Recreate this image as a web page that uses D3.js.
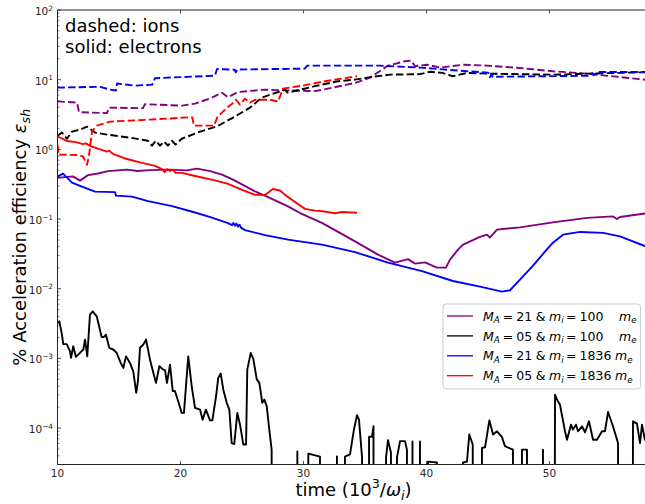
<!DOCTYPE html>
<html><head><meta charset="utf-8">
<script src="https://cdn.jsdelivr.net/npm/d3@7"></script>
<style>
body{margin:0;background:#fff}
svg{display:block;font-family:"DejaVu Sans",sans-serif}
text{white-space:pre}
</style>
</head><body>
<svg id="c" width="645" height="504"></svg>
<script>
// ---------------- DATA ----------------
const xTicks = [10, 20, 30, 40, 50];
const yTickExps = [-4, -3, -2, -1, 0, 1, 2];
const xDomain = [10, 58.13];
const yDomain = [3e-5, 100];

// ions (dashed)
const ionsMA21mi100 = [[10.0,4.89],[11.59,4.68],[11.75,3.42],[14.02,3.31],[14.19,3.97],[16.95,3.90],[17.11,4.45],[20.12,4.24],[21.18,4.53],[22.56,5.52],[23.37,6.51],[23.86,5.61],[24.67,6.66],[26.87,7.19],[30.93,6.84],[33.0,8.1],[34.19,9.0],[35.41,10.7],[36.87,15.9],[38.25,18.4],[38.74,18.8],[39.07,15.6],[40.04,16.4],[41.1,14.9],[42.97,16.4],[44.92,15.9],[47.6,14.7],[50.28,13.2],[53.05,12.2],[55.73,10.9],[57.76,10.0],[58.13,9.8]];
const ionsMA05mi100 = [[10.0,1.57],[10.37,1.74],[10.77,1.42],[11.18,1.80],[11.83,1.92],[12.4,2.12],[13.05,1.74],[14.02,1.63],[15.9,1.47],[17.36,1.33],[17.68,1.13],[18.0,1.33],[18.33,1.13],[18.66,1.29],[18.98,1.13],[19.3,1.33],[19.6,1.17],[20.1,1.42],[21.6,1.80],[22.97,2.14],[24.27,2.85],[25.65,3.97],[26.6,5.52],[27.3,6.09],[28.5,7.19],[28.7,6.51],[30.93,8.07],[32.8,9.51],[34.19,10.0],[35.57,11.0],[37.03,11.8],[39.47,12.0],[40.28,13.0],[41.3,12.5],[42.15,11.2],[43.3,12.5],[44.9,12.2],[50.3,11.8],[53.05,12.2],[57.76,12.8],[58.13,12.9]];
const ionsMA21mi1836 = [[10.0,7.7],[13.46,7.9],[14.27,7.2],[14.76,7.0],[14.84,8.8],[16.3,8.2],[17.7,8.5],[17.93,10.5],[22.8,11.4],[22.97,14.2],[24.4,13.9],[24.5,12.8],[24.6,14.0],[30.1,14.4],[30.3,15.9],[36.2,15.9],[39.5,14.9],[43.3,13.2],[45.0,12.6],[45.1,12.2],[45.15,10.8],[45.3,12.0],[45.4,11.0],[53.3,11.4],[53.5,12.4],[53.6,11.6],[53.9,12.9],[58.13,12.9]];
const ionsMA05mi1836 = [[10.0,1.17],[10.1,0.84],[11.67,0.83],[12.07,0.79],[12.4,0.60],[12.56,0.81],[12.8,1.80],[13.2,2.19],[14.27,2.50],[17.5,2.67],[20.94,2.90],[21.1,2.19],[22.72,2.19],[23.05,3.04],[23.37,3.36],[23.78,3.97],[24.2,4.53],[24.5,5.16],[24.84,4.38],[25.24,5.34],[25.65,4.68],[26.06,5.16],[27.28,5.16],[27.93,4.83],[28.33,7.43],[30.12,8.34],[31.75,9.51],[34.35,11.2]];

// electrons (solid)
const elecMA21mi100 = [[10.0,0.389],[11.26,0.41],[11.83,0.356],[12.48,0.427],[13.3,0.45],[14.1,0.487],[15.65,0.511],[16.5,0.49],[17.52,0.503],[19.15,0.511],[20.5,0.50],[21.34,0.528],[22.4,0.487],[23.37,0.434],[24.27,0.367],[26.06,0.25],[27.03,0.21],[28.74,0.152],[29.72,0.122],[31.5,0.088],[34.19,0.0479],[36.06,0.0308],[37.44,0.0237],[38.5,0.0266],[39.07,0.0229],[39.88,0.0239],[40.85,0.0201],[41.58,0.0201],[41.91,0.0261],[42.56,0.0364],[42.97,0.043],[44.35,0.0554],[44.92,0.0597],[45.16,0.054],[45.73,0.0705],[47.6,0.076],[50.28,0.0897],[53.05,0.104],[55.16,0.109],[55.49,0.1],[55.73,0.107],[57.76,0.12],[58.13,0.122]];
const elecMA05mi100 = [[10.0,3.2e-3],[10.15,3.4e-3],[10.34,2.3e-3],[10.47,1.6e-3],[10.75,1.6e-3],[11.02,1.26e-3],[11.1,1.02e-3],[11.28,1.49e-3],[11.5,1.05e-3],[11.83,1.2e-3],[12.1,1.34e-3],[12.24,1.86e-3],[12.42,1.07e-3],[12.64,4.25e-3],[12.86,4.74e-3],[13.19,4.02e-3],[13.59,2.03e-3],[13.78,2.03e-3],[13.94,2.19e-3],[14.21,1.42e-3],[14.54,1.34e-3],[14.81,1.2e-3],[15.14,8.6e-4],[15.35,7.3e-4],[15.57,1.07e-3],[15.89,8.6e-4],[16.16,6.5e-4],[16.4,3.2e-4],[16.54,4.7e-4],[16.71,1.42e-3],[16.98,1.58e-3],[17.2,1.86e-3],[17.52,9.6e-4],[17.79,6.2e-4],[18.01,4.45e-4],[18.28,7.7e-4],[18.6,6.9e-4],[18.74,6.8e-4],[18.9,4.45e-4],[19.15,8.1e-4],[19.37,3.4e-4],[19.55,3.4e-4],[19.82,2.4e-4],[20.1,1.65e-4],[20.28,1.65e-4],[20.63,1.07e-3],[20.91,4.0e-4],[21.18,1.95e-4],[21.59,1.84e-4],[21.8,1.32e-4],[22.07,1.84e-4],[22.4,1.29e-4],[22.59,1.29e-4],[22.89,2.86e-4],[23.07,5.25e-4],[23.27,6.05e-4],[23.48,3.56e-4],[23.76,2.3e-4],[23.97,1.84e-4],[24.16,6.1e-5],[24.37,5.9e-5],[24.62,1.65e-4],[24.84,1.12e-4],[25.11,5.8e-5],[25.33,5.8e-5],[25.43,6.9e-4],[25.71,1.2e-3],[25.92,9.8e-4],[26.2,5.0e-4],[26.41,4.45e-4],[26.65,2.3e-4],[26.81,2.56e-4],[27.01,2.06e-4],[27.22,9.5e-5],[27.41,4.9e-5],[27.5,0],[29.43,0],[29.5,4.6e-5],[29.55,0],[30.33,0],[30.39,4.3e-5],[31.34,3.9e-5],[31.42,0],[32.68,0],[32.72,3.9e-5],[32.8,0],[33.29,0],[33.37,3.9e-5],[33.78,4.2e-5],[34.1,9.5e-5],[34.35,1.53e-4],[34.51,1.32e-4],[34.76,3.8e-5],[34.84,0],[35.24,0],[35.33,7.5e-5],[35.57,7.5e-5],[35.69,1.06e-4],[35.81,0],[36.63,0],[36.71,3.8e-5],[36.87,6.7e-5],[37.11,4.45e-5],[37.28,0],[37.52,0],[37.6,3.8e-5],[37.85,6.5e-5],[38.25,6.5e-5],[38.41,4.9e-5],[38.66,0],[38.8,0],[38.86,6.4e-5],[38.98,0],[39.39,0],[39.47,6.4e-5],[39.55,0],[40.05,0],[40.12,3.3e-5],[40.85,3.2e-5],[41.1,0],[42.89,0],[42.97,3.2e-5],[43.29,3.3e-5],[43.48,8.1e-5],[43.76,5.8e-5],[43.86,0],[44.35,0],[44.51,5.2e-5],[44.76,5.3e-5],[45.11,1.29e-4],[45.41,8.1e-5],[45.73,9.0e-5],[46.14,7.4e-5],[46.38,5.5e-5],[46.79,5.1e-5],[47.03,4.9e-5],[47.28,0],[47.68,0],[47.76,4.9e-5],[48.17,4.9e-5],[48.25,0],[49.43,0],[49.47,4.9e-5],[49.55,0],[50.04,0],[50.45,3.0e-4],[50.69,2.4e-4],[50.85,2.17e-4],[51.26,9.0e-5],[51.42,6.8e-5],[51.75,1.12e-4],[51.91,9.5e-5],[52.15,1.12e-4],[52.32,9.0e-5],[52.64,1.06e-4],[52.89,8.7e-5],[53.21,1.25e-4],[53.54,6.8e-5],[53.86,6.8e-5],[54.27,9.0e-5],[54.51,9.0e-5],[54.76,1.7e-4],[55.16,1.06e-4],[55.57,6.1e-5],[55.89,0],[56.38,0],[56.79,1.25e-4],[57.11,1.16e-4],[57.36,6.1e-5],[57.52,1.12e-4],[57.76,6.8e-5],[58.13,6.0e-5]];
const elecMA21mi1836 = [[10.0,0.406],[10.45,0.448],[10.69,0.406],[11.18,0.333],[11.99,0.292],[13.05,0.247],[14.67,0.243],[14.76,0.217],[16.06,0.21],[17.36,0.181],[19.31,0.153],[21.18,0.124],[22.56,0.105],[23.86,0.0873],[24.2,0.082],[24.3,0.088],[24.43,0.0804],[24.55,0.086],[24.67,0.078],[24.8,0.083],[24.92,0.0753],[25.24,0.0693],[26.87,0.0588],[28.74,0.0506],[31.5,0.043],[34.19,0.0335],[36.87,0.0237],[39.63,0.0179],[42.15,0.0129],[44.35,0.0107],[46.14,0.0091],[46.79,0.0095],[47.6,0.0135],[48.66,0.0214],[49.63,0.034],[50.28,0.0458],[51.1,0.0597],[52.48,0.0653],[54.35,0.0632],[55.73,0.0565],[57.76,0.0409],[58.13,0.039]];
const elecMA05mi1836 = [[10.0,1.53],[10.77,1.32],[11.5,1.27],[12.07,1.19],[12.3,1.22],[12.64,1.12],[13.46,1.0],[14.0,0.93],[14.2,0.96],[14.51,0.86],[15.49,0.74],[16.71,0.65],[17.93,0.58],[18.5,0.52],[18.7,0.47],[18.9,0.52],[19.15,0.49],[19.4,0.51],[19.6,0.46],[20.12,0.46],[21.18,0.415],[22.8,0.358],[23.86,0.319],[25.0,0.262],[26.06,0.222],[26.87,0.222],[27.52,0.27],[28.09,0.257],[28.5,0.222],[29.31,0.176],[30.12,0.14],[30.93,0.132],[31.75,0.128],[32.56,0.121],[33.13,0.126],[34.35,0.123]];

const legendMA = ["21", "05", "21", "05"];
const legendMi = ["100", "100", "1836", "1836"];

// ---------------- STYLE / LAYOUT ----------------
const colors = ["#800080", "#000000", "#0000ff", "#ff0000"];
const L = 57.5, T = 10, B = 464.5, R = 649.5;

const svg = d3.select("#c");
const x = d3.scaleLinear().domain(xDomain).range([L, R]);
const y = d3.scaleLog().domain(yDomain).range([B, T]);

svg.append("defs").append("clipPath").attr("id", "clip")
  .append("rect").attr("x", L).attr("y", T).attr("width", R - L).attr("height", B - T);

const line = d3.line()
  .x(d => x(d[0]))
  .y(d => d[1] > 0 ? y(d[1]) : B + 2000);

const plot = svg.append("g").attr("clip-path", "url(#clip)");

const seriesList = [
  {d: elecMA21mi100, c: 0, dash: false},
  {d: ionsMA21mi100, c: 0, dash: true},
  {d: elecMA05mi100, c: 1, dash: false},
  {d: ionsMA05mi100, c: 1, dash: true},
  {d: elecMA21mi1836, c: 2, dash: false},
  {d: ionsMA21mi1836, c: 2, dash: true},
  {d: elecMA05mi1836, c: 3, dash: false},
  {d: ionsMA05mi1836, c: 3, dash: true}
];
seriesList.forEach(s => {
  plot.append("path").datum(s.d)
    .attr("d", line)
    .attr("fill", "none")
    .attr("stroke", colors[s.c])
    .attr("stroke-width", 1.9)
    .attr("stroke-linejoin", "round")
    .attr("stroke-dasharray", s.dash ? "7.4,3.2" : null);
});

// math text helper
function mathText(sel, parts, fs) {
  let off = 0;
  parts.forEach(p => {
    const shift = p.sub ? 0.22 * fs : (p.sup ? -0.42 * fs : 0);
    const ts = sel.append("tspan").text(p.t);
    if (shift !== off) { ts.attr("dy", shift - off); off = shift; }
    if (p.sub || p.sup) ts.attr("font-size", 0.7 * fs);
    if (p.i) ts.attr("font-style", "italic");
    if (p.x !== undefined) ts.attr("x", p.x);
    if (p.dx !== undefined) ts.attr("dx", p.dx);
  });
}

// spines
const axisCol = "#262626";
svg.append("path").attr("d", `M${L},${T}V${B}`).attr("stroke", axisCol).attr("stroke-width", 1);
svg.append("path").attr("d", `M${L},${B}H${R}`).attr("stroke", axisCol).attr("stroke-width", 1);
svg.append("path").attr("d", `M${L},${T}H${R}`).attr("stroke", axisCol).attr("stroke-width", 1);

// x ticks (bottom and top, inward)
xTicks.forEach(t => {
  const px = x(t);
  svg.append("line").attr("x1", px).attr("x2", px).attr("y1", B).attr("y2", B - 3.5).attr("stroke", axisCol).attr("stroke-width", 0.8);
  svg.append("line").attr("x1", px).attr("x2", px).attr("y1", T).attr("y2", T + 3.5).attr("stroke", axisCol).attr("stroke-width", 0.8);
  svg.append("text").attr("x", px).attr("y", 477).attr("text-anchor", "middle")
    .attr("font-size", 10.5).attr("fill", axisCol).text(t);
});

// y ticks major + minor
yTickExps.forEach(e => {
  const py = y(Math.pow(10, e));
  svg.append("line").attr("x1", L).attr("x2", L + 3.5).attr("y1", py).attr("y2", py).attr("stroke", axisCol).attr("stroke-width", 0.8);
  const tx = svg.append("text").attr("x", 53).attr("y", py + 5).attr("text-anchor", "end")
    .attr("font-size", 10.5).attr("fill", axisCol);
  mathText(tx, [{t: "10"}, {t: e < 0 ? "\u2212" + Math.abs(e) : String(e), sup: true}], 10.5);
  for (let k = 2; k <= 9; k++) {
    const v = k * Math.pow(10, e - 1);
    if (v < yDomain[0] || v > yDomain[1]) continue;
    const pm = y(v);
    svg.append("line").attr("x1", L).attr("x2", L + 2).attr("y1", pm).attr("y2", pm).attr("stroke", axisCol).attr("stroke-width", 0.6);
  }
});

// axis labels
const xl = svg.append("text").attr("x", (L + R) / 2).attr("y", 496).attr("text-anchor", "middle")
  .attr("font-size", 18).attr("fill", "#000");
mathText(xl, [{t: "time (10"}, {t: "3", sup: true}, {t: "/"}, {t: "\u03c9", i: true}, {t: "i", sub: true, i: true}, {t: ")"}], 18);

const yl = svg.append("text").attr("transform", `translate(26,${(T + B) / 2}) rotate(-90)`)
  .attr("text-anchor", "middle").attr("font-size", 18).attr("fill", "#000");
mathText(yl, [{t: "% Acceleration efficiency "}, {t: "\u03b5", i: true}, {t: "sh", sub: true, i: true}], 18);

// annotation
svg.append("text").attr("x", 65).attr("y", 31.5).attr("font-size", 18).text("dashed: ions");
svg.append("text").attr("x", 65).attr("y", 52.5).attr("font-size", 18).text("solid: electrons");

// legend
const lg = svg.append("g");
lg.append("rect").attr("x", 443).attr("y", 304).attr("width", 197.5).attr("height", 85).attr("rx", 3)
  .attr("fill", "#fff").attr("fill-opacity", 0.8).attr("stroke", "#cccccc").attr("stroke-width", 1);
const lfs = 12.5;
legendMA.forEach((ma, i) => {
  const ry = 316 + i * 19.9;
  lg.append("line").attr("x1", 447).attr("x2", 473).attr("y1", ry).attr("y2", ry)
    .attr("stroke", colors[i]).attr("stroke-width", 1.3);
  const t = lg.append("text").attr("x", 483).attr("y", ry + 4.6).attr("font-size", lfs).attr("fill", "#000");
  const meX = legendMi[i].length > 3 ? 615 : 619;
  mathText(t, [
    {t: "M", i: true}, {t: "A", sub: true, i: true},
    {t: "=", dx: 3}, {t: ma, dx: 3},
    {t: "&", dx: 3.5},
    {t: "m", i: true, dx: 3.5}, {t: "i", sub: true, i: true},
    {t: "=", dx: 2.5}, {t: legendMi[i], dx: 3},
    {t: "m", i: true, x: meX}, {t: "e", sub: true, i: true}
  ], lfs);
});
</script>
</body></html>
